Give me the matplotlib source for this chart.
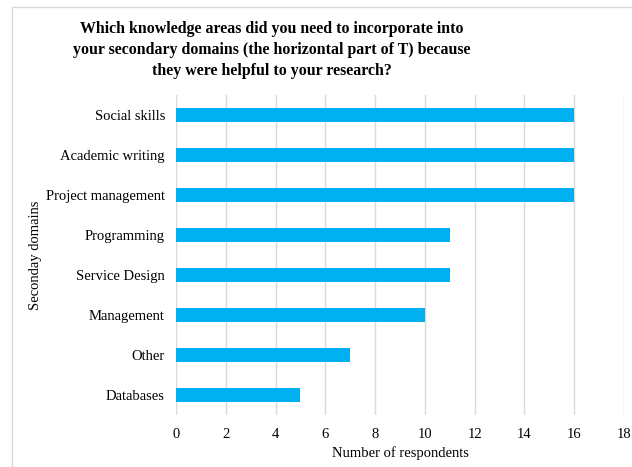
import matplotlib.pyplot as plt
from matplotlib.patches import Rectangle

categories = ['Social skills', 'Academic writing', 'Project management', 'Programming',
              'Service Design', 'Management', 'Other', 'Databases']
counts = [16, 16, 16, 11, 11, 10, 7, 5]
xticks = [0, 2, 4, 6, 8, 10, 12, 14, 16, 18]

plt.rcParams['font.family'] = ['Liberation Serif', 'DejaVu Serif']

W, H = 632, 467
fig = plt.figure(figsize=(W / 100, H / 100), dpi=100)

# light frame around the chart, cut off at right and bottom
fig.patches.append(Rectangle((12 / W, -0.1), 1.1, 1 - 7 / H + 0.1, transform=fig.transFigure,
                             fill=False, edgecolor='#d9d9d9', linewidth=1))

ax = fig.add_axes([176 / W, 1 - 415 / H, (624 - 176) / W, 320 / H])
y = list(range(len(categories)))
ax.barh(y, counts, height=0.37, color='#00b0f0', zorder=3)
ax.set_ylim(len(categories) - 0.5, -0.5)
ax.set_yticks(y)
ax.set_yticklabels(categories, fontsize=10.5)
ax.set_xlim(0, 18)
ax.set_xticks(xticks)
ax.set_xticklabels([str(t) for t in xticks], fontsize=10.5)
ax.tick_params(axis='x', length=0, pad=9)
ax.tick_params(axis='y', length=0, pad=8)
ax.grid(axis='x', color='#d9d9d9', linewidth=1, zorder=0)
for s in ax.spines.values():
    s.set_visible(False)

ax.set_xlabel('Number of respondents', fontsize=10.5, labelpad=4)
fig.text(35 / W, 1 - 255 / H, 'Seconday domains', rotation=90, fontsize=10.5,
         ha='center', va='center')

fig.text(272 / W, 1 - 50 / H,
         'Which knowledge areas did you need to incorporate into\n'
         'your secondary domains (the horizontal part of T) because\n'
         'they were helpful to your research?',
         ha='center', va='center', fontsize=11.4, fontweight='bold', linespacing=1.4)

fig.savefig('out.png', dpi=100)
